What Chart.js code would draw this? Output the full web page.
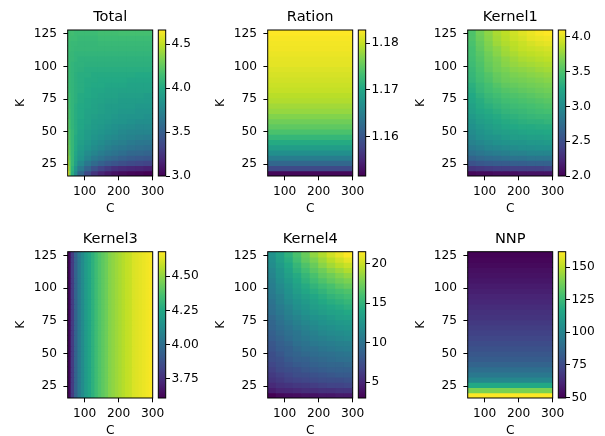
<!DOCTYPE html>
<html>
<head>
<meta charset="utf-8">
<title>C / K heatmaps</title>
<style>
  body { margin: 0; background: #fff; overflow: hidden; }
  #fig { position: relative; width: 605px; height: 436px; background: #fff; }
  #fig canvas { position: absolute; }
</style>
</head>
<body>
<div id="fig"></div>
<script src="https://cdn.jsdelivr.net/npm/chart.js"></script>
<script>
// K rows (bin centres, bins of 4 from 16 to 128), bottom to top
const kRows = [18,22,26,30,34,38,42,46,50,54,58,62,66,70,74,78,82,86,90,94,98,102,106,110,114,118,122,126];
const kTicks = [25, 50, 75, 100, 125];
const cTicks = [100, 200, 300];

// C column edges
const cEdgesTotal = [50,55,60,70,80,100,120,140,160,180,200,225,250,275,300];
const cEdges25 = [50,75,100,125,150,175,200,225,250,275,300];
const cEdges10 = [50,60,70,80,90,100,110,120,130,140,150,160,170,180,190,200,210,220,230,240,250,260,270,280,290,300];
const cEdgesAll = [50, 300];

// Total: one row per K (bottom to top), one value per C column of cEdgesTotal
const total = [
  [4.66,4.36,4.03,3.80,3.55,3.37,3.25,3.17,3.12,3.08,3.05,3.03,3.02,3.00],
  [4.58,4.33,4.06,3.86,3.68,3.53,3.42,3.33,3.28,3.23,3.20,3.18,3.17,3.15],
  [4.49,4.29,4.10,3.93,3.78,3.66,3.58,3.51,3.46,3.43,3.40,3.37,3.35,3.33],
  [4.43,4.26,4.10,3.96,3.85,3.75,3.68,3.63,3.58,3.55,3.51,3.48,3.46,3.45],
  [4.38,4.23,4.10,3.98,3.88,3.80,3.75,3.70,3.66,3.63,3.60,3.56,3.55,3.53],
  [4.34,4.21,4.10,4.00,3.91,3.85,3.80,3.76,3.71,3.68,3.66,3.63,3.61,3.60],
  [4.31,4.20,4.10,4.01,3.93,3.88,3.83,3.80,3.76,3.73,3.71,3.68,3.66,3.65],
  [4.29,4.18,4.10,4.01,3.95,3.90,3.86,3.83,3.80,3.78,3.75,3.73,3.71,3.70],
  [4.28,4.18,4.10,4.03,3.96,3.91,3.88,3.86,3.83,3.81,3.78,3.76,3.75,3.75],
  [4.26,4.16,4.08,4.03,3.98,3.93,3.90,3.88,3.85,3.83,3.81,3.80,3.78,3.78],
  [4.25,4.16,4.08,4.03,3.98,3.95,3.91,3.90,3.88,3.86,3.85,3.83,3.81,3.81],
  [4.23,4.15,4.08,4.03,4.00,3.95,3.93,3.91,3.90,3.88,3.86,3.85,3.85,3.83],
  [4.23,4.15,4.08,4.03,4.00,3.96,3.95,3.93,3.91,3.90,3.88,3.88,3.86,3.86],
  [4.21,4.13,4.08,4.03,4.00,3.98,3.95,3.93,3.91,3.91,3.90,3.90,3.88,3.88],
  [4.20,4.13,4.08,4.05,4.01,3.98,3.96,3.95,3.93,3.93,3.91,3.91,3.91,3.90],
  [4.20,4.13,4.08,4.05,4.01,4.00,3.98,3.96,3.95,3.95,3.93,3.93,3.93,3.91],
  [4.18,4.11,4.08,4.05,4.03,4.00,3.98,3.98,3.96,3.96,3.95,3.95,3.95,3.95],
  [4.18,4.11,4.08,4.05,4.03,4.01,4.00,4.00,3.98,3.98,3.98,3.96,3.96,3.96],
  [4.16,4.11,4.08,4.05,4.03,4.01,4.01,4.00,4.00,4.00,4.00,3.98,3.98,3.98],
  [4.16,4.11,4.08,4.05,4.03,4.03,4.01,4.01,4.01,4.01,4.01,4.01,4.00,4.00],
  [4.16,4.11,4.08,4.06,4.05,4.03,4.03,4.03,4.03,4.03,4.03,4.03,4.03,4.03],
  [4.16,4.11,4.08,4.06,4.06,4.05,4.05,4.05,4.05,4.05,4.05,4.05,4.05,4.05],
  [4.15,4.11,4.10,4.08,4.06,4.06,4.06,4.06,4.06,4.06,4.06,4.06,4.06,4.06],
  [4.15,4.11,4.10,4.08,4.08,4.08,4.08,4.08,4.08,4.08,4.08,4.08,4.08,4.08],
  [4.15,4.13,4.11,4.10,4.10,4.10,4.10,4.10,4.10,4.10,4.10,4.10,4.10,4.10],
  [4.15,4.13,4.11,4.11,4.10,4.10,4.10,4.11,4.11,4.11,4.11,4.11,4.11,4.11],
  [4.16,4.15,4.13,4.13,4.11,4.11,4.11,4.13,4.13,4.13,4.13,4.13,4.13,4.13],
  [4.16,4.15,4.15,4.13,4.13,4.13,4.13,4.15,4.15,4.15,4.16,4.16,4.16,4.16]
];

// Ration: depends on K only
const ration = [1.1522,1.1585,1.1619,1.1647,1.1669,1.1688,1.1706,1.1722,1.1738,1.1750,1.1759,1.1769,1.1778,1.1784,
  1.1791,1.1795,1.1800,1.1803,1.1806,1.1809,1.1812,1.1816,1.1817,1.1819,1.1822,1.1823,1.1825,1.1828];

// Kernel1: rows per K, columns of cEdges25
const kernel1 = [
  [2.04,2.06,2.06,2.08,2.08,2.08,2.11,2.11,2.11,2.11],
  [2.32,2.34,2.36,2.38,2.38,2.40,2.40,2.40,2.40,2.42],
  [2.53,2.57,2.59,2.61,2.61,2.63,2.63,2.65,2.65,2.65],
  [2.67,2.71,2.74,2.76,2.78,2.80,2.80,2.82,2.82,2.82],
  [2.78,2.82,2.86,2.88,2.90,2.92,2.92,2.95,2.95,2.95],
  [2.86,2.90,2.95,2.97,2.99,3.01,3.03,3.03,3.05,3.05],
  [2.92,2.97,3.01,3.05,3.07,3.09,3.09,3.11,3.11,3.13],
  [2.97,3.03,3.07,3.09,3.13,3.16,3.16,3.18,3.18,3.20],
  [3.01,3.07,3.11,3.16,3.18,3.20,3.22,3.24,3.24,3.26],
  [3.05,3.11,3.16,3.20,3.24,3.26,3.28,3.28,3.30,3.30],
  [3.09,3.16,3.20,3.24,3.28,3.30,3.32,3.34,3.34,3.37],
  [3.13,3.20,3.24,3.28,3.32,3.34,3.37,3.39,3.41,3.41],
  [3.18,3.24,3.28,3.32,3.37,3.39,3.41,3.43,3.45,3.47],
  [3.20,3.28,3.32,3.37,3.41,3.43,3.45,3.47,3.49,3.51],
  [3.24,3.30,3.37,3.41,3.45,3.47,3.49,3.51,3.53,3.55],
  [3.26,3.34,3.41,3.45,3.49,3.51,3.53,3.55,3.58,3.60],
  [3.30,3.39,3.45,3.49,3.53,3.55,3.58,3.60,3.62,3.64],
  [3.32,3.41,3.47,3.53,3.58,3.60,3.62,3.64,3.66,3.68],
  [3.37,3.45,3.51,3.58,3.62,3.64,3.66,3.68,3.70,3.72],
  [3.39,3.47,3.53,3.60,3.64,3.68,3.70,3.72,3.74,3.76],
  [3.41,3.49,3.58,3.64,3.68,3.72,3.74,3.76,3.79,3.81],
  [3.43,3.51,3.60,3.66,3.72,3.76,3.79,3.81,3.83,3.85],
  [3.45,3.53,3.62,3.68,3.74,3.79,3.83,3.85,3.87,3.89],
  [3.47,3.55,3.64,3.72,3.79,3.83,3.87,3.89,3.91,3.93],
  [3.47,3.58,3.68,3.74,3.81,3.87,3.91,3.93,3.95,3.97],
  [3.49,3.60,3.70,3.79,3.85,3.89,3.93,3.97,4.00,4.02],
  [3.51,3.62,3.72,3.81,3.87,3.93,3.97,4.02,4.04,4.06],
  [3.51,3.64,3.74,3.83,3.89,3.95,4.00,4.04,4.08,4.10]
];

// Kernel3: depends on C only, columns of cEdges10
const kernel3 = [3.63,3.80,3.95,4.05,4.12,4.19,4.24,4.29,4.34,4.38,4.41,4.44,4.48,4.50,4.52,4.54,4.56,4.58,4.59,4.62,4.63,4.64,4.65,4.66,4.67];

// Kernel4: rows per K, columns of cEdges25
const kernel4 = [
  [3.0,3.4,3.6,3.7,3.9,3.9,4.1,4.1,4.3,4.3],
  [4.5,4.9,5.0,5.2,5.4,5.4,5.6,5.6,5.8,5.8],
  [5.2,5.6,5.8,6.0,6.1,6.3,6.5,6.7,6.7,6.9],
  [5.8,6.1,6.5,6.7,6.9,7.1,7.3,7.4,7.4,7.6],
  [6.1,6.5,6.9,7.3,7.4,7.6,7.8,8.0,8.2,8.2],
  [6.5,7.1,7.4,7.6,8.0,8.2,8.4,8.6,8.7,8.7],
  [6.9,7.4,7.8,8.2,8.4,8.7,8.9,9.1,9.1,9.3],
  [7.3,7.6,8.2,8.6,8.7,9.1,9.3,9.5,9.7,9.8],
  [7.4,8.0,8.6,8.9,9.3,9.5,9.7,9.8,10.0,10.2],
  [7.8,8.4,8.7,9.3,9.7,9.8,10.2,10.4,10.6,10.8],
  [8.0,8.6,9.1,9.7,10.0,10.4,10.6,10.8,11.0,11.1],
  [8.4,8.9,9.5,10.0,10.4,10.8,11.0,11.3,11.5,11.7],
  [8.6,9.3,9.8,10.2,10.8,11.1,11.5,11.7,11.9,12.1],
  [8.9,9.5,10.0,10.6,11.1,11.5,11.9,12.1,12.4,12.6],
  [9.1,9.8,10.4,11.0,11.5,11.9,12.3,12.6,12.8,13.0],
  [9.3,10.0,10.8,11.3,11.9,12.3,12.6,13.0,13.4,13.5],
  [9.7,10.4,11.1,11.7,12.3,12.8,13.2,13.5,13.7,14.1],
  [9.8,10.6,11.3,12.1,12.6,13.2,13.5,13.9,14.3,14.7],
  [10.0,11.0,11.7,12.4,13.0,13.5,14.1,14.5,14.8,15.2],
  [10.4,11.1,12.1,12.8,13.4,13.9,14.5,15.0,15.4,15.8],
  [10.6,11.5,12.3,13.2,13.9,14.5,15.0,15.6,16.0,16.3],
  [10.8,11.7,12.6,13.5,14.3,15.0,15.6,16.1,16.7,17.1],
  [11.0,12.1,13.0,13.9,14.8,15.6,16.3,16.9,17.4,17.8],
  [11.3,12.4,13.4,14.3,15.2,16.1,16.9,17.4,18.0,18.5],
  [11.5,12.6,13.7,14.8,15.8,16.7,17.4,18.2,18.7,19.3],
  [11.9,13.0,14.1,15.2,16.3,17.2,18.2,18.9,19.5,20.0],
  [12.1,13.4,14.5,15.8,16.9,17.8,18.7,19.5,20.2,20.8],
  [12.3,13.5,14.8,16.1,17.2,18.4,19.3,20.2,20.9,21.5]
];

// NNP: depends on K only
const nnp = [162,139.5,117,101.3,94.5,90,85.5,82.1,79.9,77.6,75.4,73.1,71.4,69.8,
  68.1,66.4,65.3,63.6,61.9,60.8,59.1,57.9,56.3,55.1,54.0,52.3,51.2,50.1];

// colour limits and colorbar tick labels
const totalRange = [3.0, 4.66],    totalCb = ['3.0','3.5','4.0','4.5'];
const rationRange = [1.1516, 1.1828], rationCb = ['1.16','1.17','1.18'];
const kernel1Range = [2.0, 4.1],   kernel1Cb = ['2.0','2.5','3.0','3.5','4.0'];
const kernel3Range = [3.61, 4.68], kernel3Cb = ['3.75','4.00','4.25','4.50'];
const kernel4Range = [3.0, 21.5],  kernel4Cb = ['5','10','15','20'];
const nnpRange = [49.5, 162],      nnpCb = ['50','75','100','125','150'];

const panels = [
  {title: 'Total',   cEdges: cEdgesTotal, val: (i, j) => total[i][j],   range: totalRange,   cb: totalCb},
  {title: 'Ration',  cEdges: cEdgesAll,   val: (i, j) => ration[i],     range: rationRange,  cb: rationCb},
  {title: 'Kernel1', cEdges: cEdges25,    val: (i, j) => kernel1[i][j], range: kernel1Range, cb: kernel1Cb},
  {title: 'Kernel3', cEdges: cEdges10,    val: (i, j) => kernel3[j],    range: kernel3Range, cb: kernel3Cb},
  {title: 'Kernel4', cEdges: cEdges25,    val: (i, j) => kernel4[i][j], range: kernel4Range, cb: kernel4Cb},
  {title: 'NNP',     cEdges: cEdgesAll,   val: (i, j) => nnp[i],        range: nnpRange,     cb: nnpCb}
];

// ---- look ----
const FONT = 'DejaVu Sans';
const TICK_PX = 12.2, TITLE_PX = 14.6;
Chart.defaults.color = '#000';
Chart.defaults.font.family = FONT;

const VIRIDIS = ['#440154','#482475','#414487','#355f8d','#2a788e','#21918c','#22a884','#44bf70','#7ad151','#bddf26','#fde725'];
const VRGB = VIRIDIS.map(h => [1, 3, 5].map(k => parseInt(h.substr(k, 2), 16)));
function viridis(t) {
  t = Math.max(0, Math.min(1, t));
  const x = t * (VRGB.length - 1), i = Math.min(Math.floor(x), VRGB.length - 2), f = x - i;
  const c = VRGB[i].map((v, k) => Math.round(v + (VRGB[i + 1][k] - v) * f));
  return `rgb(${c[0]},${c[1]},${c[2]})`;
}

// page geometry of plot boxes
const plotLeft = [67.7, 267.7, 467.7], plotRight = [152.7, 352.7, 552.7];
const plotTop = [30, 251.7], plotBottom = [176, 398];
const cbLeft = [158.3, 358.3, 558.3], cbRight = [165.7, 365.7, 565.7];
const ROW_H = 218;

const fig = document.getElementById('fig');
function addCanvas(left, top, w, h) {
  const c = document.createElement('canvas');
  c.width = w; c.height = h;
  c.style.left = left + 'px'; c.style.top = top + 'px';
  c.style.width = w + 'px'; c.style.height = h + 'px';
  fig.appendChild(c);
  return c;
}

const frame = {
  id: 'frame',
  afterDraw(chart) {
    const {ctx, chartArea: a} = chart;
    ctx.save();
    ctx.strokeStyle = '#000';
    ctx.lineWidth = 1;
    ctx.strokeRect(a.left, a.top, a.right - a.left, a.bottom - a.top);
    ctx.restore();
  }
};

const gradientFill = {
  id: 'gradientFill',
  beforeDatasetsDraw(chart) {
    const {ctx, chartArea: a} = chart;
    const g = ctx.createLinearGradient(0, a.bottom, 0, a.top);
    VIRIDIS.forEach((c, i) => g.addColorStop(i / (VIRIDIS.length - 1), c));
    ctx.save();
    ctx.fillStyle = g;
    ctx.fillRect(a.left, a.top, a.right - a.left, a.bottom - a.top);
    ctx.restore();
  }
};

const tickGrid = {drawOnChartArea: false, drawTicks: true, tickLength: 4.3, tickColor: '#000', tickWidth: 1, offset: false};

function heatmap(p, col, row) {
  const left = col * 200, top = row * ROW_H, W = 178, H = ROW_H;
  const a = {l: plotLeft[col] - left, r: plotRight[col] - left, t: plotTop[row] - top, b: plotBottom[row] - top};
  const cells = [];
  kRows.forEach((k, i) => {
    for (let j = 0; j < p.cEdges.length - 1; j++) {
      cells.push({y: k, x: [p.cEdges[j], p.cEdges[j + 1]], v: p.val(i, j)});
    }
  });
  const [lo, hi] = p.range;
  new Chart(addCanvas(left, top, W, H), {
    type: 'bar',
    data: {datasets: [{
      data: cells,
      backgroundColor: ctx => viridis((ctx.raw.v - lo) / (hi - lo)),
      borderWidth: 0,
      inflateAmount: 0.5,
      barPercentage: 1,
      categoryPercentage: 1,
      grouped: false
    }]},
    options: {
      indexAxis: 'y',
      responsive: false,
      animation: false,
      events: [],
      layout: {padding: {left: 0, right: W - a.r, top: 0, bottom: 0}},
      plugins: {
        legend: {display: false},
        tooltip: {enabled: false},
        title: {
          display: true, text: p.title, fullSize: false, color: '#000',
          font: {family: FONT, size: TITLE_PX, weight: 'normal', lineHeight: 1.2},
          padding: {top: a.t - TITLE_PX * 1.2 - 3.6, bottom: 3.6}
        }
      },
      scales: {
        x: {
          type: 'linear', position: 'bottom', min: 50, max: 300,
          afterBuildTicks: s => { s.ticks = cTicks.map(v => ({value: v})); },
          afterFit: s => { s.height = H - a.b; s.paddingLeft = 0; s.paddingRight = 0; },
          ticks: {color: '#000', font: {family: FONT, size: TICK_PX}, padding: 4.3, maxRotation: 0, autoSkip: false},
          grid: tickGrid,
          border: {display: false},
          title: {display: true, text: 'C', color: '#000', font: {family: FONT, size: TICK_PX},
                  padding: {top: 0, bottom: H - (a.b + 33) - TICK_PX * 0.6}}
        },
        y: {
          type: 'linear', position: 'left', min: 16, max: 128, offset: false,
          afterBuildTicks: s => { s.ticks = kTicks.map(v => ({value: v})); },
          afterFit: s => { s.width = a.l; s.paddingTop = 0; s.paddingBottom = 0; },
          ticks: {color: '#000', font: {family: FONT, size: TICK_PX}, padding: 6.5, autoSkip: false},
          grid: tickGrid,
          border: {display: false},
          title: {display: true, text: 'K', color: '#000', font: {family: FONT, size: TICK_PX},
                  padding: {top: 20.5 - TICK_PX * 0.6, bottom: 0}}
        }
      }
    },
    plugins: [frame]
  });
}

function colorbar(p, col, row) {
  const left = col * 200 + 150, top = row * ROW_H, W = 50, H = ROW_H;
  const a = {l: cbLeft[col] - left, r: cbRight[col] - left, t: plotTop[row] - top, b: plotBottom[row] - top};
  new Chart(addCanvas(left, top, W, H), {
    type: 'line',
    data: {datasets: []},
    options: {
      responsive: false,
      animation: false,
      events: [],
      layout: {padding: {left: a.l, right: 0, top: a.t, bottom: H - a.b}},
      plugins: {legend: {display: false}, tooltip: {enabled: false}},
      scales: {
        x: {type: 'linear', display: false},
        y: {
          type: 'linear', position: 'right', min: p.range[0], max: p.range[1],
          afterBuildTicks: s => { s.ticks = p.cb.map(t => ({value: parseFloat(t)})); },
          afterFit: s => { s.width = W - a.r; s.paddingTop = 0; s.paddingBottom = 0; },
          ticks: {color: '#000', font: {family: FONT, size: TICK_PX}, padding: 1.5, autoSkip: false,
                  callback: (v, i) => p.cb[i]},
          grid: tickGrid,
          border: {display: false}
        }
      }
    },
    plugins: [gradientFill, frame]
  });
}

panels.forEach((p, n) => {
  const col = n % 3, row = Math.floor(n / 3);
  heatmap(p, col, row);
  colorbar(p, col, row);
});
</script>
</body>
</html>
